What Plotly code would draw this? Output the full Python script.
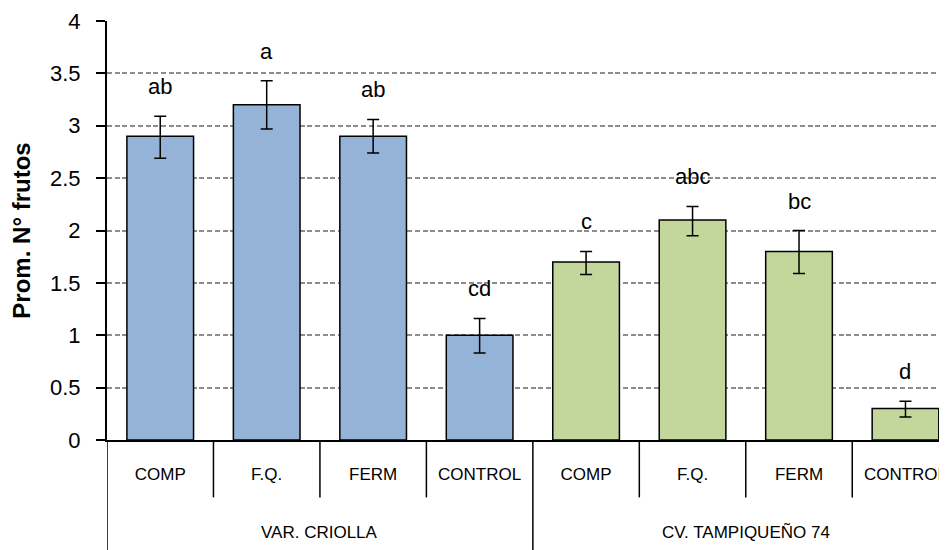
import plotly.graph_objects as go

group_names = ["VAR. CRIOLLA", "CV. TAMPIQUEÑO 74"]
treatments = ["COMP", "F.Q.", "FERM", "CONTROL"]
categories = [f"{g}|{t}" for g in group_names for t in treatments]
tick_text = treatments * 2
values = [2.9, 3.2, 2.9, 1.0, 1.7, 2.1, 1.8, 0.3]
err_plus = [0.19, 0.23, 0.16, 0.16, 0.10, 0.13, 0.20, 0.07]
err_minus = [0.21, 0.23, 0.16, 0.17, 0.12, 0.15, 0.21, 0.08]
letters = ["ab", "a", "ab", "cd", "c", "abc", "bc", "d"]
colors = ["#95B3D7"] * 4 + ["#C3D69B"] * 4

FONT = "Liberation Sans, Arial, sans-serif"

fig = go.Figure()
fig.add_trace(go.Bar(
    x=categories,
    y=values,
    marker=dict(color=colors, line=dict(color="black", width=1.5)),
    error_y=dict(type="data", symmetric=False, array=err_plus, arrayminus=err_minus,
                 color="black", thickness=1.5, width=6),
    showlegend=False,
))

# significance letters
for i, (c, v, e, lab) in enumerate(zip(categories, values, err_plus, letters)):
    fig.add_annotation(x=c, y=v + e, text=lab, showarrow=False,
                       yanchor="bottom", yshift=15, xref="x", yref="y",
                       font=dict(family=FONT, size=22, color="black"))

# separators between treatments (first level)
n = len(categories)
for k in range(n - 1):
    if (k + 1) % 4 == 0:
        continue
    fig.add_shape(type="line", xref="x", yref="paper", x0=k + 0.5, x1=k + 0.5,
                  y0=0, y1=-0.137, line=dict(color="black", width=1.5))
# group dividers (through both levels)
for b in [-0.5, 3.5, 7.5]:
    fig.add_shape(type="line", xref="x", yref="paper", x0=b, x1=b,
                  y0=0, y1=-0.27, line=dict(color="black", width=1.5))
# group labels
for gi, g in enumerate(group_names):
    fig.add_annotation(x=gi * 4 + 1.5, y=-0.22, xref="x", yref="paper", text=g,
                       showarrow=False, yanchor="middle",
                       font=dict(family=FONT, size=17, color="black"))

# page body has an 8px margin, so the figure is sized to end at the window edge
fig.update_layout(
    width=939, height=542,
    margin=dict(l=99, r=0, t=13, b=110),
    plot_bgcolor="white", paper_bgcolor="white",
    bargap=0.374,
    font=dict(family=FONT, color="black"),
    xaxis=dict(
        type="category",
        categoryorder="array", categoryarray=categories,
        tickvals=categories, ticktext=tick_text,
        range=[-0.5, 7.39],
        automargin=False,
        showline=True, linecolor="black", linewidth=2,
        ticks="", ticklabelstandoff=18,
        tickfont=dict(family=FONT, size=17, color="black"),
        showgrid=False,
    ),
    yaxis=dict(
        range=[0, 4], dtick=0.5, tick0=0,
        automargin=False,
        showline=True, linecolor="black", linewidth=2,
        ticks="outside", ticklen=9, tickcolor="black", tickwidth=2,
        ticklabelstandoff=11,
        showgrid=True, gridcolor="#8C8C8C", griddash="5px,2.7px", gridwidth=1.5,
        zeroline=False,
        tickfont=dict(family=FONT, size=22, color="black"),
        title=dict(text="<b>Prom. N° frutos</b>", standoff=16,
                   font=dict(family=FONT, size=24, color="black")),
    ),
)

fig.write_html("out.html")
